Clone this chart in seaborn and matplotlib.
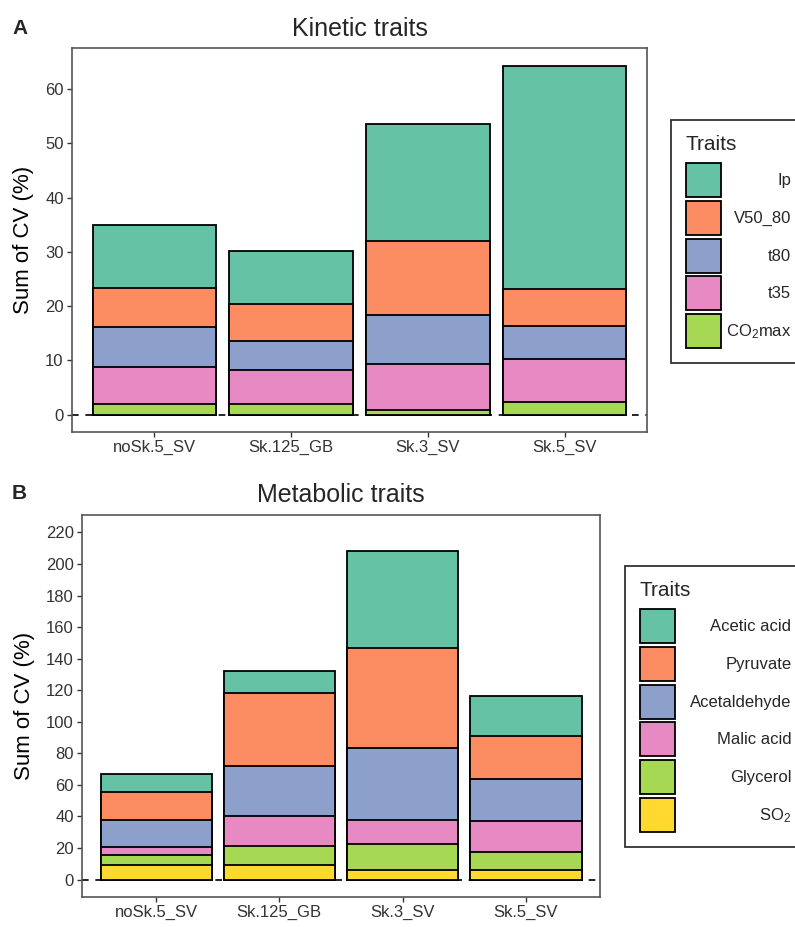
import numpy as np
import pandas as pd
import matplotlib
matplotlib.use('Agg')
import matplotlib.pyplot as plt
import seaborn as sns
from matplotlib.patches import Patch

samples = ['noSk.5_SV', 'Sk.125_GB', 'Sk.3_SV', 'Sk.5_SV']

# kinetic traits (stack order bottom -> top)
kin_traits = ['CO2max', 't35', 't80', 'V50_80', 'Ip']
kin_labels = ['CO$_2$max', 't35', 't80', 'V50_80', 'Ip']
co2max = [2.0, 2.0, 0.8, 2.3]
t35 = [6.7, 6.3, 8.5, 7.9]
t80 = [7.4, 5.3, 9.1, 6.2]
v50_80 = [7.2, 6.8, 13.7, 6.7]
ip = [11.6, 9.7, 21.4, 41.1]

# metabolic traits (stack order bottom -> top)
met_traits = ['SO2', 'Glycerol', 'Malic acid', 'Acetaldehyde', 'Pyruvate', 'Acetic acid']
met_labels = ['SO$_2$', 'Glycerol', 'Malic acid', 'Acetaldehyde', 'Pyruvate', 'Acetic acid']
so2 = [9.0, 9.5, 5.9, 6.1]
glycerol = [6.3, 11.7, 16.8, 11.6]
malic_acid = [5.3, 19.4, 14.9, 19.5]
acetaldehyde = [17.4, 31.7, 46.1, 26.3]
pyruvate = [17.7, 46.1, 63.3, 27.3]
acetic_acid = [11.2, 13.5, 60.9, 25.3]

kin_df = pd.DataFrame({'sample': samples, 'CO2max': co2max, 't35': t35, 't80': t80,
                       'V50_80': v50_80, 'Ip': ip})
met_df = pd.DataFrame({'sample': samples, 'SO2': so2, 'Glycerol': glycerol,
                       'Malic acid': malic_acid, 'Acetaldehyde': acetaldehyde,
                       'Pyruvate': pyruvate, 'Acetic acid': acetic_acid})

sns.set_theme(style="white")
plt.rcParams['font.family'] = ['Liberation Sans', 'DejaVu Sans']
plt.rcParams['mathtext.default'] = 'regular'

pal = sns.color_palette("Set2")
kin_colors = [pal[4], pal[3], pal[2], pal[1], pal[0]]
met_colors = [pal[5], pal[4], pal[3], pal[2], pal[1], pal[0]]

txt_col = '#333333'


def stacked(ax, df, traits, colors, ylim, yticks):
    cum = df[traits].cumsum(axis=1)
    ax.axhline(0, color='black', lw=1.2, ls=(0, (4, 4)), zorder=0)
    # draw from the top of the stack down so each lower piece overlays
    for i in range(len(traits) - 1, -1, -1):
        sns.barplot(x=df['sample'], y=cum[traits[i]], order=samples, color=colors[i],
                    saturation=1, width=0.9, edgecolor='black', linewidth=1.3, ax=ax)
    ax.set_xlim(-0.6, 3.6)
    ax.set_ylim(*ylim)
    ax.set_yticks(yticks)
    ax.set_xlabel('')
    ax.set_ylabel('Sum of CV (%)', fontsize=16, color='black', labelpad=8)
    ax.tick_params(axis='both', which='both', direction='out', length=3.5, width=1,
                   color=txt_col, labelcolor=txt_col, labelsize=12, pad=2.5, left=True, bottom=True)
    for s in ax.spines.values():
        s.set_color('#555555')
        s.set_linewidth(1.2)


def right_legend(fig, handles, labels, x, y, textpad):
    leg = fig.legend(handles, labels, title='Traits', loc='upper left', bbox_to_anchor=(x, y),
                     bbox_transform=fig.transFigure, fontsize=12, title_fontsize=15,
                     handlelength=2.1, handleheight=2.76, labelspacing=0.23,
                     handletextpad=textpad, borderpad=0.9, borderaxespad=0, frameon=True,
                     fancybox=False, edgecolor='black')
    leg.get_frame().set_linewidth(1.3)
    leg._legend_box.align = 'left'
    leg._legend_box.sep = 6.5  # a bit more room under the title
    return leg


fig = plt.figure(figsize=(7.95, 9.27), dpi=100)
axA = fig.add_axes([72 / 795, 1 - 432 / 927, 575 / 795, 384 / 927])
axB = fig.add_axes([82 / 795, 1 - 897 / 927, 518 / 795, 382 / 927])

stacked(axA, kin_df, kin_traits, kin_colors, (-3.2, 67.6), np.arange(0, 61, 10))
stacked(axB, met_df, met_traits, met_colors, (-11, 231), np.arange(0, 221, 20))

axA.set_title('Kinetic traits', fontsize=18, pad=9)
axB.set_title('Metabolic traits', fontsize=18, pad=9)
fig.text(12 / 795, 1 - 28 / 927, 'A', fontsize=15, fontweight='bold', va='center')
fig.text(12 / 795, 1 - 493 / 927, 'B', fontsize=15, fontweight='bold', va='center')

kin_handles = [Patch(facecolor=c, edgecolor='black', lw=1.3) for c in kin_colors][::-1]
met_handles = [Patch(facecolor=c, edgecolor='black', lw=1.3) for c in met_colors][::-1]
legs = [right_legend(fig, kin_handles, kin_labels[::-1], 671 / 795, 1 - 120 / 927, 0.3),
        right_legend(fig, met_handles, met_labels[::-1], 625 / 795, 1 - 566 / 927, 0.9)]

# right-align the legend labels like ggplot
fig.canvas.draw()
renderer = fig.canvas.get_renderer()
for leg in legs:
    texts = leg.get_texts()
    widths = [t.get_window_extent(renderer).width for t in texts]
    wmax = max(widths)
    for t, w in zip(texts, widths):
        t.set_position((wmax - w, 0))

fig.savefig('out.png', dpi=100)
